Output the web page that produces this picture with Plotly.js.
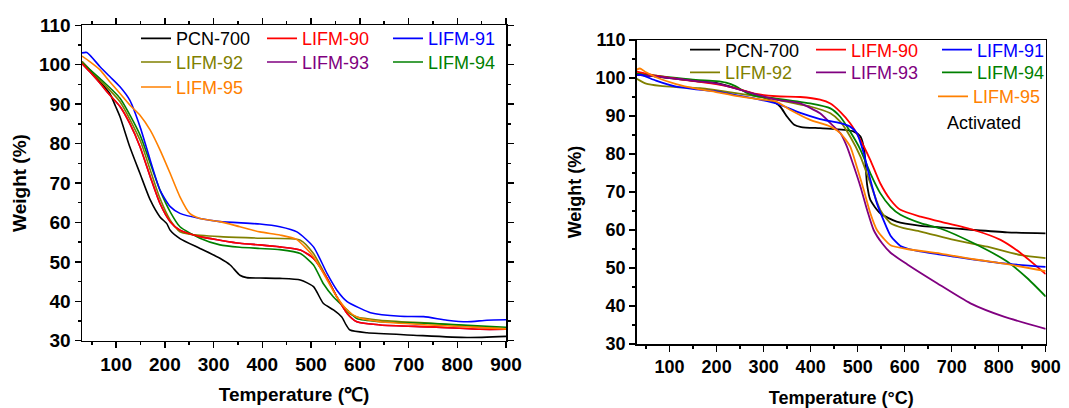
<!DOCTYPE html>
<html>
<head>
<meta charset="utf-8">
<script src="https://cdn.plot.ly/plotly-3.0.1.min.js"></script>
<style>
  html, body { margin: 0; padding: 0; background: #ffffff; }
  #chart { width: 1069px; height: 408px; }
</style>
</head>
<body>
<div id="chart"></div>
<script>
// ---------- Series names and colours ----------
const seriesNames = ["PCN-700", "LIFM-90", "LIFM-91", "LIFM-92", "LIFM-93", "LIFM-94", "LIFM-95"];
const seriesColors = ["#000000", "#ff0000", "#0000ff", "#808000", "#800080", "#008000", "#ff8000"];
const xTickValues = [100, 200, 300, 400, 500, 600, 700, 800, 900];
const yTickValues = [30, 40, 50, 60, 70, 80, 90, 100, 110];

// ---------- Left panel (as synthesized) ----------
const pcn700LeftT = [30, 46, 67, 87, 99, 108, 128, 149, 170, 190, 204, 211, 231, 272, 313, 334, 354, 368, 395, 436, 478, 505, 525, 546, 563, 572, 580, 615, 710, 820, 900];
const pcn700LeftW = [100.8, 98.7, 95.7, 92.7, 89.4, 86.8, 79.2, 72.4, 65.7, 61.4, 59.7, 58, 55.9, 53.4, 50.9, 49.2, 46.6, 46, 45.9, 45.8, 45.4, 43.7, 39.5, 37.8, 36, 34, 32.7, 32, 31.4, 30.8, 31.1];

const lifm90LeftT = [30, 46, 67, 87, 108, 128, 149, 170, 190, 211, 231, 272, 313, 354, 395, 436, 478, 505, 533, 553, 574, 594, 642, 744, 847, 900];
const lifm90LeftW = [100.3, 98.2, 95.3, 92.3, 89.4, 85.1, 79.2, 71.6, 64.8, 60.2, 58, 56.4, 55.5, 54.7, 54.3, 53.8, 53, 50.9, 45.8, 41.1, 36.9, 34.8, 34, 33.5, 32.9, 32.9];

const lifm91LeftT = [30, 40, 67, 87, 108, 128, 149, 170, 190, 211, 231, 272, 313, 395, 436, 471, 505, 533, 553, 574, 601, 622, 683, 731, 779, 820, 861, 900];
const lifm91LeftW = [103, 103.1, 99.5, 97, 94.4, 91, 84.3, 75.8, 68.2, 64, 62.3, 61, 60.2, 59.6, 58.9, 57.6, 53.8, 47, 42.8, 39.9, 38.2, 37.1, 36.2, 36.1, 35.2, 34.8, 35.2, 35.3];

const lifm92LeftT = [30, 67, 108, 149, 170, 190, 211, 231, 251, 313, 395, 478, 505, 533, 553, 574, 594, 642, 744, 847, 900];
const lifm92LeftW = [100.8, 96.1, 90.6, 80.9, 73.3, 66.1, 60.6, 57.6, 57, 56.4, 56, 55.5, 52.1, 45.8, 41.1, 37.3, 36, 35.2, 34.4, 33.5, 33];

// LIFM-93 is not visible in the left panel: it lies underneath LIFM-90.
const lifm93LeftT = [30, 46, 67, 87, 108, 128, 149, 170, 190, 211, 231, 272, 313, 354, 395, 436, 478, 505, 533, 553, 574, 594, 642, 744, 847, 900];
const lifm93LeftW = [100.3, 98.2, 95.3, 92.3, 89.4, 85.1, 79.2, 71.6, 64.8, 60.2, 58, 56.4, 55.5, 54.7, 54.3, 53.8, 53, 50.9, 45.8, 41.1, 36.9, 34.8, 34, 33.5, 32.9, 32.9];

const lifm94LeftT = [30, 67, 108, 149, 170, 190, 211, 231, 272, 313, 354, 395, 436, 478, 505, 525, 546, 574, 594, 642, 744, 900];
const lifm94LeftW = [100.5, 96.5, 91.5, 82.2, 75, 68.2, 62.7, 58.9, 56, 54.3, 53.7, 53.4, 53.1, 52.1, 49.2, 44.5, 41.1, 37.8, 35.6, 34.8, 34.4, 33.4];

const lifm95LeftT = [30, 46, 67, 87, 108, 128, 149, 170, 190, 211, 231, 251, 272, 313, 354, 395, 436, 470, 505, 533, 553, 574, 594, 642, 744, 900];
const lifm95LeftW = [102.2, 100.8, 98.7, 95.7, 92.7, 89.8, 87.2, 83.4, 78.4, 72.4, 66.5, 62.3, 61, 60.2, 58.9, 57.6, 56.8, 55.7, 51.3, 45.4, 41.1, 37.8, 36, 34.8, 34, 33];

// ---------- Right panel (activated) ----------
const pcn700RightT = [30, 71, 114, 156, 199, 241, 284, 314, 335, 350, 365, 380, 420, 456, 492, 506, 514, 520, 527, 548, 583, 634, 676, 747, 818, 900];
const pcn700RightW = [100.8, 100.4, 99.8, 99.2, 98.7, 97.3, 95.6, 94.2, 92.5, 89.8, 87.7, 87.1, 86.8, 86.5, 85.9, 84.6, 81, 72, 67.9, 64.4, 62.2, 61.1, 60.7, 60, 59.4, 59.1];

const lifm90RightT = [30, 50, 71, 114, 156, 199, 241, 284, 327, 378, 420, 442, 463, 484, 506, 527, 548, 570, 591, 634, 676, 747, 804, 847, 900];
const lifm90RightW = [101.7, 101.2, 100.6, 99.8, 99.1, 98.4, 97.3, 95.8, 95.2, 95, 94.3, 93.3, 91.1, 88.1, 83.7, 78.4, 72.3, 67.9, 65.3, 63.5, 62.2, 60, 57.4, 53.9, 48.4];

const lifm91RightT = [30, 40, 71, 114, 156, 199, 241, 284, 327, 378, 420, 463, 484, 498, 513, 527, 541, 555, 570, 591, 619, 705, 811, 900];
const lifm91RightW = [100.8, 100.8, 99.3, 97.7, 97, 96.5, 95.5, 94.5, 93.3, 90.8, 89.2, 88.1, 87.2, 85.5, 80.2, 73.2, 67, 62.6, 58.5, 55.8, 54.7, 53, 51.2, 50.3];

const lifm92RightT = [30, 50, 80, 114, 165, 241, 327, 378, 399, 442, 463, 484, 506, 527, 548, 570, 598, 634, 705, 776, 847, 900];
const lifm92RightW = [99.8, 98.5, 97.9, 97.6, 97.3, 96, 94.3, 93, 92.5, 90.7, 88.5, 84.6, 79.3, 72.3, 65.3, 61.8, 60.5, 59.6, 57.4, 55.6, 53.4, 52.6];

const lifm93RightT = [30, 71, 114, 156, 199, 241, 284, 327, 378, 420, 442, 463, 477, 492, 506, 520, 534, 552, 570, 605, 669, 740, 811, 900];
const lifm93RightW = [100.8, 100.4, 99.8, 99.2, 98.6, 97.2, 95.7, 94.3, 93.3, 90.7, 88.1, 85.5, 82, 76.7, 71.4, 65.3, 60, 56.5, 54, 51, 46, 40.7, 37.2, 34];

const lifm94RightT = [30, 71, 114, 156, 199, 220, 241, 262, 284, 327, 399, 442, 463, 484, 506, 527, 548, 570, 591, 634, 676, 747, 818, 861, 900];
const lifm94RightW = [101.2, 100.6, 100, 99.5, 99.2, 98.8, 97.8, 96.2, 95.2, 94.6, 93.3, 92, 89.8, 85.9, 81.1, 74.9, 69.7, 66.1, 64, 61.8, 60.4, 56.5, 51.7, 47.3, 42.5];

const lifm95RightT = [30, 37, 50, 71, 114, 156, 199, 241, 284, 327, 357, 399, 442, 463, 484, 498, 513, 527, 541, 555, 570, 605, 676, 747, 818, 900];
const lifm95RightW = [102.2, 102.5, 101.5, 100.2, 98.4, 97.2, 96.3, 95.3, 94.5, 93.8, 91.6, 89, 87.2, 85.5, 82, 76.7, 70.5, 64.4, 60, 57.8, 56, 55, 53.8, 52.3, 51, 49.2];

const leftData = [
  [pcn700LeftT, pcn700LeftW], [lifm90LeftT, lifm90LeftW], [lifm91LeftT, lifm91LeftW],
  [lifm92LeftT, lifm92LeftW], [lifm93LeftT, lifm93LeftW], [lifm94LeftT, lifm94LeftW],
  [lifm95LeftT, lifm95LeftW]
];
const rightData = [
  [pcn700RightT, pcn700RightW], [lifm90RightT, lifm90RightW], [lifm91RightT, lifm91RightW],
  [lifm92RightT, lifm92RightW], [lifm93RightT, lifm93RightW], [lifm94RightT, lifm94RightW],
  [lifm95RightT, lifm95RightW]
];

// legend rows: left panel 3/3/1, right panel 3/3/1 (last item in the 3rd column)
const leftLegendOf = ["legend", "legend", "legend", "legend2", "legend2", "legend2", "legend3"];
const rightLegendOf = ["legend4", "legend4", "legend4", "legend5", "legend5", "legend5", "legend6"];
// drawing order for left (LIFM-93 first so it stays underneath)
const leftDrawOrder = [4, 0, 3, 5, 1, 2, 6];
const rightDrawOrder = [0, 3, 5, 1, 4, 2, 6];

function styledName(i) {
  return '<span style="color:' + seriesColors[i] + '">' + seriesNames[i] + '</span>';
}

const traces = [];
leftDrawOrder.forEach(function (i) {
  traces.push({
    type: "scatter", mode: "lines",
    x: leftData[i][0], y: leftData[i][1],
    name: styledName(i),
    line: { color: seriesColors[i], width: 1.6, shape: "spline", smoothing: 0.6 },
    xaxis: "x", yaxis: "y",
    legend: leftLegendOf[i], legendrank: i + 1,
    hoverinfo: "skip"
  });
});
rightDrawOrder.forEach(function (i) {
  traces.push({
    type: "scatter", mode: "lines",
    x: rightData[i][0], y: rightData[i][1],
    name: styledName(i),
    line: { color: seriesColors[i], width: 1.8, shape: "spline", smoothing: 0.6 },
    xaxis: "x2", yaxis: "y2",
    legend: rightLegendOf[i], legendrank: i + 1,
    hoverinfo: "skip"
  });
});

const W = 1069, H = 408;
const FONT = "Liberation Sans, Arial, sans-serif";

function axisBase(domain, mirror, tickSize) {
  return {
    domain: domain,
    showgrid: false, zeroline: false,
    showline: true, linecolor: "#000", linewidth: 1.5,
    mirror: mirror,
    ticks: "outside", ticklen: 6, tickwidth: 1.5, tickcolor: "#000",
    tickfont: { family: FONT, size: tickSize, color: "#000", weight: "bold" },
    fixedrange: true
  };
}

function legendAt(xpx, ypx, ew) {
  return {
    orientation: "h", x: xpx / W, y: 1 - ypx / H,
    xanchor: "left", yanchor: "middle",
    bgcolor: "rgba(0,0,0,0)", borderwidth: 0,
    entrywidth: ew, entrywidthmode: "pixels",
    font: { family: FONT, size: 18, color: "#000" },
    itemclick: false, itemdoubleclick: false,
    tracegroupgap: 0
  };
}

const xaL = Object.assign(axisBase([82 / W, 506 / W], "ticks", 19), {
  range: [30, 900], tickvals: xTickValues,
  minor: { dtick: 50, tick0: 0, ticks: "outside", ticklen: 3, tickwidth: 1.5, tickcolor: "#000" },
  title: { text: "Temperature (℃)", font: { family: FONT, size: 19, color: "#000", weight: "bold" }, standoff: 13 },
  anchor: "y"
});
const yaL = Object.assign(axisBase([1 - 340.7 / H, 1 - 25.3 / H], "ticks", 19), {
  range: [30, 110], tickvals: yTickValues,
  minor: { dtick: 5, tick0: 0, ticks: "outside", ticklen: 3, tickwidth: 1.5, tickcolor: "#000" },
  title: { text: "Weight (%)", font: { family: FONT, size: 19, color: "#000", weight: "bold" }, standoff: 7 },
  anchor: "x"
});
const xaR = Object.assign(axisBase([636.7 / W, 1045.7 / W], true, 18), {
  range: [30, 900], tickvals: xTickValues,
  minor: { dtick: 50, tick0: 0, ticks: "outside", ticklen: 3, tickwidth: 1.5, tickcolor: "#000" },
  title: { text: "Temperature (°C)", font: { family: FONT, size: 18, color: "#000", weight: "bold" }, standoff: 16 },
  anchor: "y2"
});
const yaR = Object.assign(axisBase([1 - 344 / H, 1 - 40 / H], true, 18), {
  range: [30, 110], tickvals: yTickValues,
  minor: { dtick: 5, tick0: 0, ticks: "outside", ticklen: 3, tickwidth: 1.5, tickcolor: "#000" },
  title: { text: "Weight (%)", font: { family: FONT, size: 18, color: "#000", weight: "bold" }, standoff: 9 },
  anchor: "x2"
});

const layout = {
  width: W, height: H,
  margin: { l: 0, r: 0, t: 0, b: 0, pad: 0 },
  paper_bgcolor: "#ffffff", plot_bgcolor: "#ffffff",
  font: { family: FONT, color: "#000" },
  xaxis: xaL, yaxis: yaL, xaxis2: xaR, yaxis2: yaR,
  showlegend: true,
  legend: legendAt(136, 38.7, 81),
  legend2: legendAt(136, 62.3, 81),
  legend3: legendAt(136, 87.3, 81),
  legend4: legendAt(685, 50, 81),
  legend5: legendAt(685, 72.7, 81),
  legend6: legendAt(933, 96.7, 81),
  annotations: [{
    text: "Activated", xref: "paper", yref: "paper",
    x: 945 / W, y: 1 - 123 / H, xanchor: "left", yanchor: "middle",
    showarrow: false, font: { family: FONT, size: 18, color: "#000" }
  }]
};

Plotly.newPlot("chart", traces, layout, { displayModeBar: false, staticPlot: true });
</script>
</body>
</html>
